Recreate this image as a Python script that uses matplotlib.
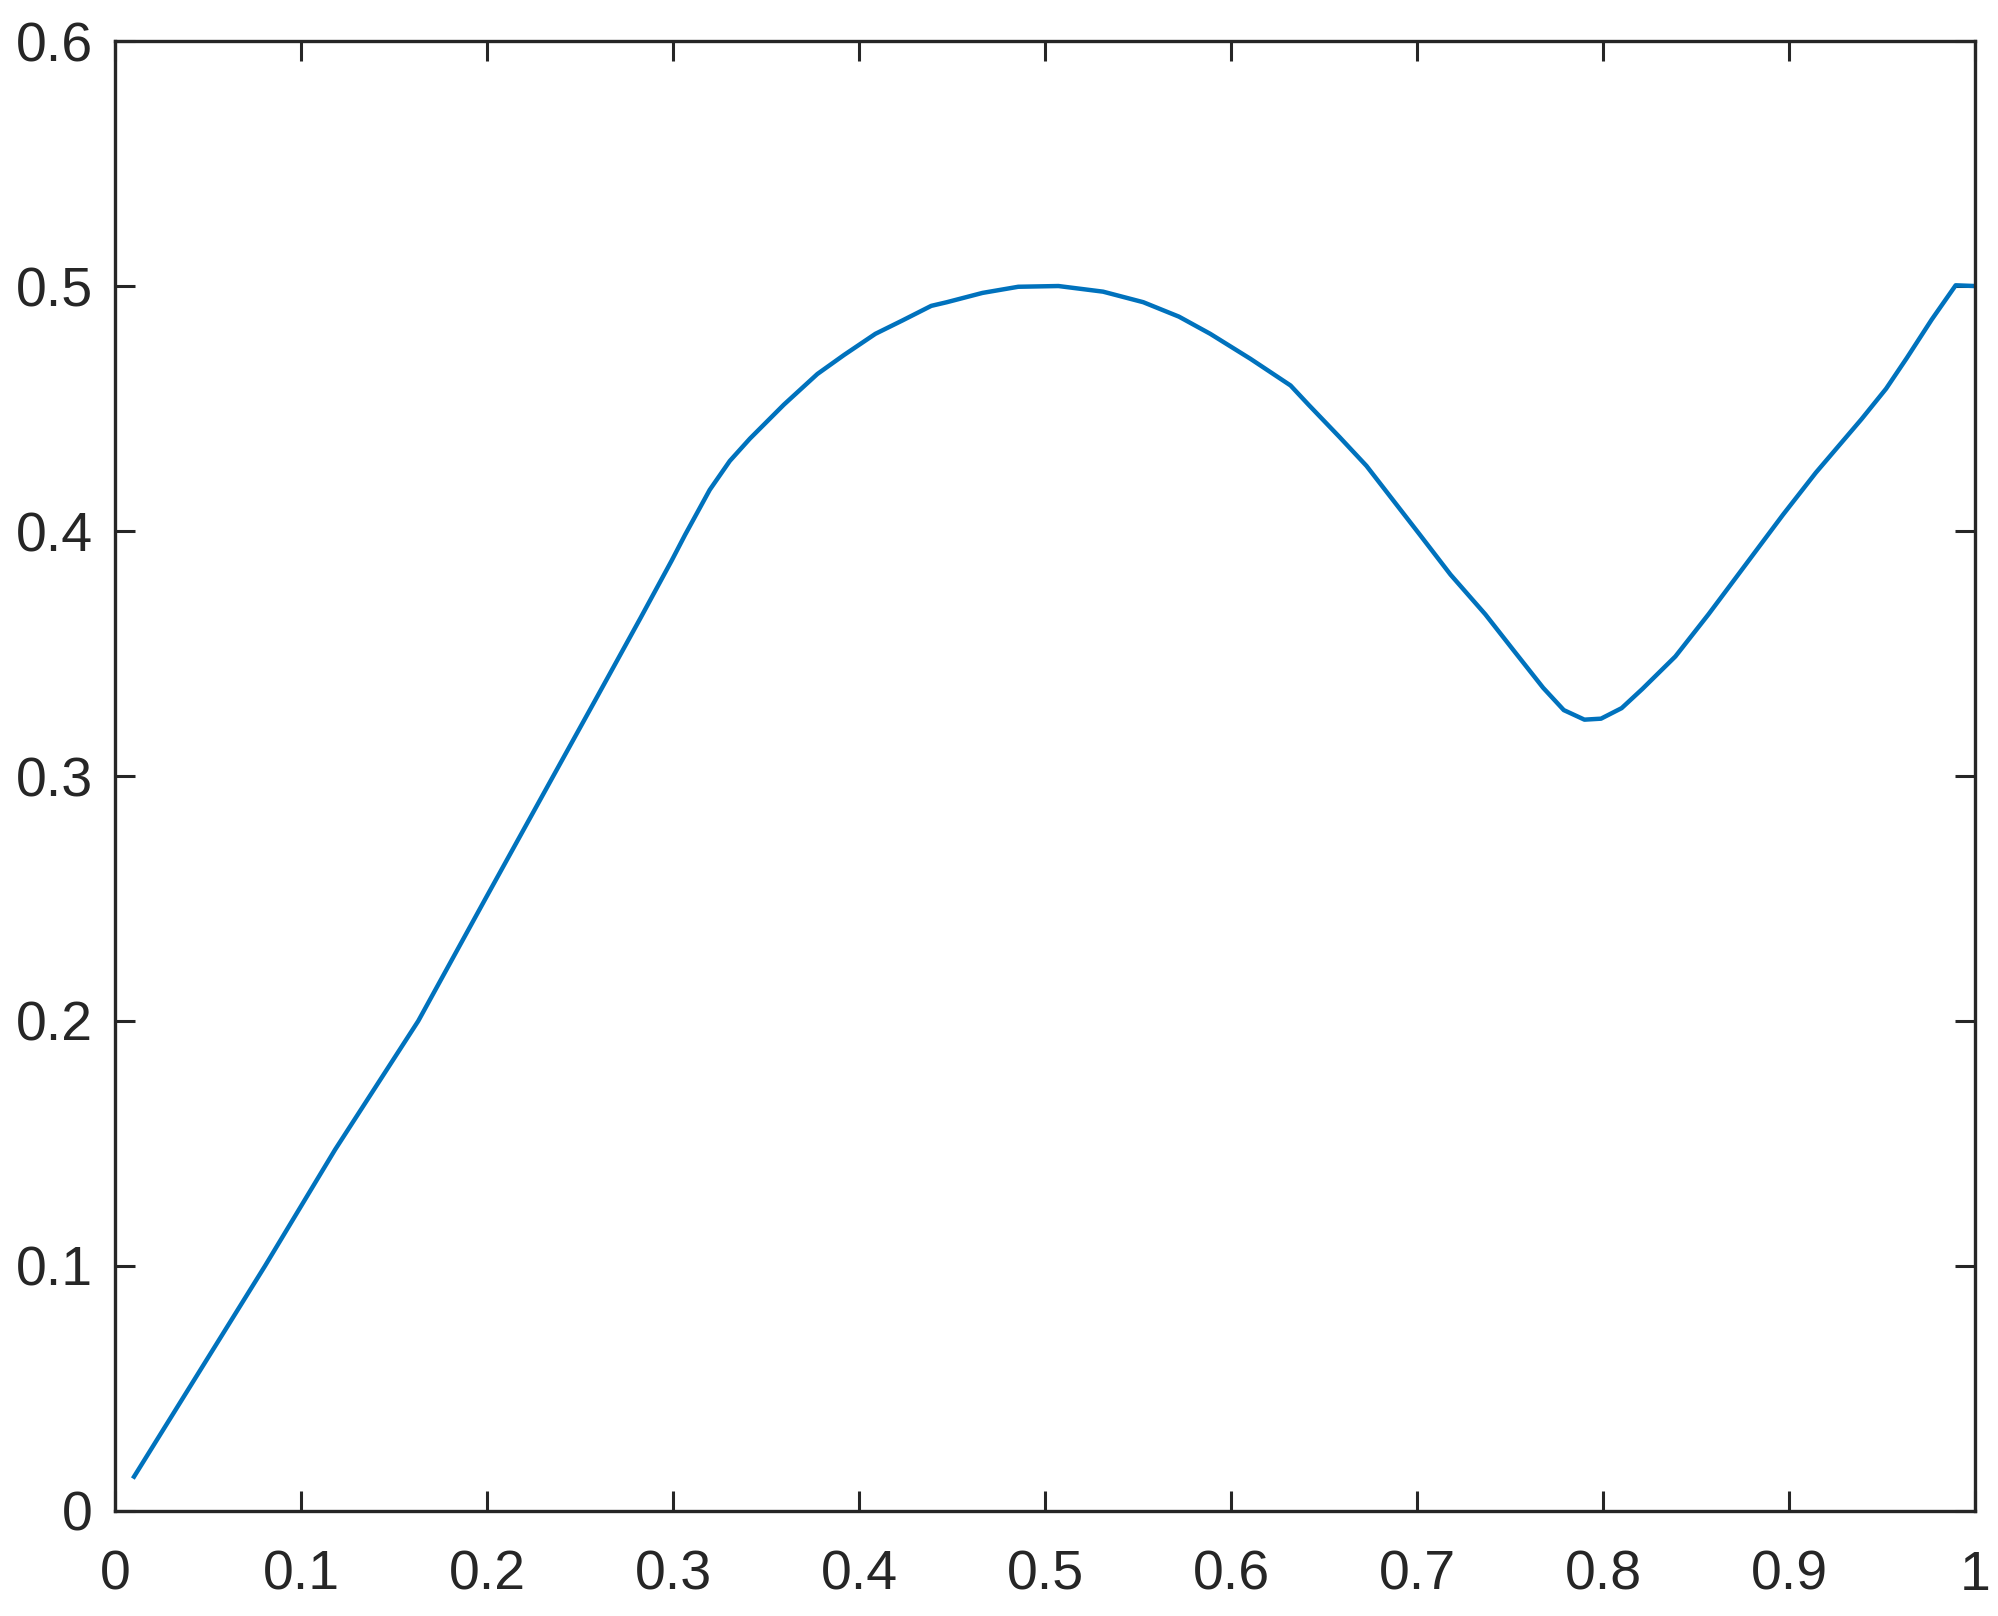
import matplotlib
matplotlib.use("Agg")
import matplotlib.pyplot as plt

# values
x = [0.0102, 0.0806, 0.1183, 0.163, 0.1989, 0.2356, 0.2582,
     0.268, 0.2825, 0.2993, 0.3065, 0.3197, 0.3305, 0.3413, 0.3596, 0.3776,
     0.392, 0.4088, 0.4232, 0.4388, 0.4472, 0.4664, 0.4856, 0.5072, 0.5312,
     0.5528, 0.572, 0.5888, 0.6104, 0.632, 0.6416, 0.6584, 0.6728, 0.6872,
     0.7016, 0.718, 0.7367, 0.7522, 0.7678, 0.7789, 0.79, 0.7989, 0.81,
     0.8211, 0.8389, 0.8567, 0.8767, 0.8967, 0.9144, 0.9389, 0.9522, 0.9633,
     0.9767, 0.9896, 1.0]
y = [0.014, 0.100, 0.1475, 0.200, 0.2496, 0.300, 0.331,
     0.3445, 0.3645, 0.388, 0.3985, 0.4168, 0.4286, 0.4377, 0.4516, 0.4641,
     0.4719, 0.4805, 0.4859, 0.4919, 0.4934, 0.4972, 0.4997, 0.5, 0.4977,
     0.4934, 0.4875, 0.4805, 0.4703, 0.4594, 0.4516, 0.4383, 0.4266, 0.4125,
     0.3984, 0.3822, 0.366, 0.351, 0.336, 0.3269, 0.323, 0.3234, 0.3277,
     0.3355, 0.3488, 0.366, 0.3863, 0.4066, 0.4238, 0.4456, 0.4581, 0.4706,
     0.4863, 0.5003, 0.5]

xticks = [0, 0.1, 0.2, 0.3, 0.4, 0.5, 0.6, 0.7, 0.8, 0.9, 1]
yticks = [0, 0.1, 0.2, 0.3, 0.4, 0.5, 0.6]

plt.rcParams["font.family"] = ["Liberation Sans", "DejaVu Sans"]
axis_col = "#262626"

fig = plt.figure(figsize=(9.99, 8.08), dpi=200)
ax = fig.add_axes([0.0576, 0.065, 0.9309, 0.9096])
ax.plot(x, y, color="#0072BD", lw=1.6)

ax.set_xlim(0, 1); ax.set_ylim(0, 0.6)
ax.set_xticks(xticks); ax.set_yticks(yticks)
ax.set_xticklabels(["0" if t == 0 else ("1" if t == 1 else f"{t:.1f}") for t in xticks])
ax.set_yticklabels(["0" if t == 0 else f"{t:.1f}" for t in yticks])
ax.tick_params(direction="in", length=7.2, width=1.1, colors=axis_col,
               labelsize=20, top=True, right=True)
ax.tick_params(axis="x", pad=14)
ax.tick_params(axis="y", pad=8)
for s in ax.spines.values():
    s.set_color(axis_col); s.set_linewidth(1.2)

fig.savefig("out.png", dpi=200)
